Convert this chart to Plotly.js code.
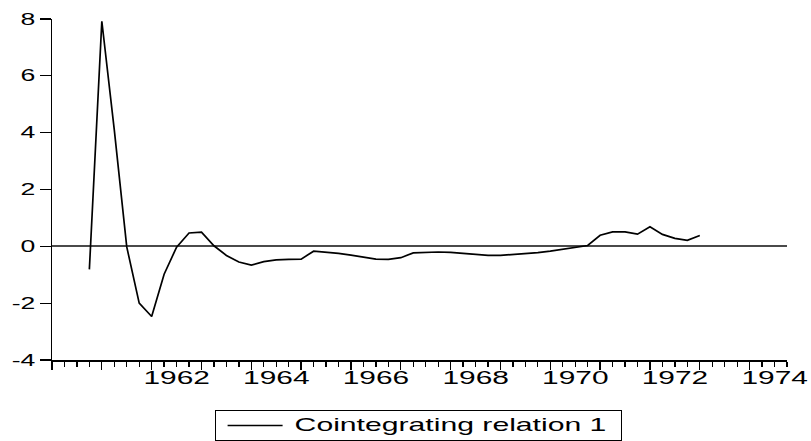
<!DOCTYPE html>
<html>
<head>
<meta charset="utf-8">
<script src="https://cdn.plot.ly/plotly-3.0.1.min.js"></script>
<style>html,body{margin:0;padding:0;background:#fff;}</style>
</head>
<body>
<div id="chart" style="width:811px;height:441px"></div>
<script>
// ---- data ----
const quarters = [
  '1960Q4',
  '1961Q1','1961Q2','1961Q3','1961Q4',
  '1962Q1','1962Q2','1962Q3','1962Q4',
  '1963Q1','1963Q2','1963Q3','1963Q4',
  '1964Q1','1964Q2','1964Q3','1964Q4',
  '1965Q1','1965Q2','1965Q3','1965Q4',
  '1966Q1','1966Q2','1966Q3','1966Q4',
  '1967Q1','1967Q2','1967Q3','1967Q4',
  '1968Q1','1968Q2','1968Q3','1968Q4',
  '1969Q1','1969Q2','1969Q3','1969Q4',
  '1970Q1','1970Q2','1970Q3','1970Q4',
  '1971Q1','1971Q2','1971Q3','1971Q4',
  '1972Q1','1972Q2','1972Q3','1972Q4',
  '1973Q1'
];
const relation1 = [
  -0.81,
  7.92, 4.10, -0.02, -2.00,
  -2.47, -0.98, -0.03, 0.47,
  0.50, 0.02, -0.32, -0.55,
  -0.66, -0.54, -0.48, -0.46,
  -0.45, -0.17, -0.20, -0.25,
  -0.31, -0.38, -0.45, -0.46,
  -0.40, -0.23, -0.21, -0.20,
  -0.21, -0.24, -0.29, -0.32,
  -0.32, -0.29, -0.26, -0.22,
  -0.17, -0.10, -0.05, 0.03,
  0.39, 0.51, 0.51, 0.43,
  0.69, 0.42, 0.28, 0.21,
  0.38
];
const seriesName = 'Cointegrating relation 1';
const yearTicks = [1960,1961,1962,1963,1964,1965,1966,1967,1968,1969,1970,1971,1972,1973,1974];
const yearTickText = ['','','1962','','1964','','1966','','1968','','1970','','1972','','1974'];
const yTickVals = [-4,-2,0,2,4,6,8];
const yTickText = ['-4','-2','0','2','4','6','8'];

function quarterToYear(q){
  const yr = parseInt(q.slice(0,4),10);
  const qn = parseInt(q.slice(5),10);
  return yr + (qn-1)/4;
}

const FONT = 'Liberation Sans, Arial, Helvetica, sans-serif';
const xRange = [1960, 1974.75];
const LEGEND_FONT = 18.5;

const data = [{
  type:'scatter', mode:'lines',
  x: quarters.map(quarterToYear), y: relation1,
  name: seriesName,
  line:{color:'#000', width:1.7}
}];

const layout = {
  width:811, height:441,
  margin:{l:52, r:24, t:19, b:81, pad:0, autoexpand:false},
  paper_bgcolor:'#fff', plot_bgcolor:'#fff',
  font:{family:FONT, color:'#000'},
  showlegend:true,
  xaxis:{
    range:xRange, tickmode:'array', tickvals:yearTicks, ticktext:yearTickText,
    ticks:'outside', ticklen:8, tickwidth:1.3, tickcolor:'#000', tickangle:0,
    tickfont:{family:FONT, size:18, color:'#000'}, ticklabelshift:25, ticklabelstandoff:-7,
    showline:true, linecolor:'#000', linewidth:1.5,
    showgrid:false, zeroline:false, automargin:false,
    minor:{tickmode:'linear', tick0:1960, dtick:0.25, ticks:'outside', ticklen:5, tickwidth:1.3, tickcolor:'#000', showgrid:false}
  },
  yaxis:{
    range:[-4,8], tickmode:'array', tickvals:yTickVals, ticktext:yTickText,
    ticks:'outside', ticklen:11, tickwidth:1.3, tickcolor:'#000',
    showline:true, linecolor:'#000', linewidth:1.5, automargin:false,
    showgrid:false, zeroline:true, zerolinecolor:'#4a4a4a', zerolinewidth:2,
    tickfont:{family:FONT, size:16, color:'#000'}, ticklabelstandoff:1
  },
  legend:{
    x:0.498, xanchor:'center', y:-0.147, yanchor:'top',
    bordercolor:'#000', borderwidth:1, bgcolor:'#fff',
    font:{family:FONT, size:LEGEND_FONT, color:'#000'}
  }
};

const F = 1.66;
function stretch(t, f){
  t.removeAttribute('textLength');
  t.removeAttribute('lengthAdjust');
  const w = t.getComputedTextLength();
  t.setAttribute('textLength', (w*f).toFixed(1));
  t.setAttribute('lengthAdjust','spacingAndGlyphs');
  return w*f;
}

function finish(gd){
  gd.querySelectorAll('.xtick text, .ytick text').forEach(t => { if (t.textContent) stretch(t, F); });
  const leg = gd.querySelector('g.legend');
  if (!leg) return;
  const txt = leg.querySelector('text.legendtext');
  const line = leg.querySelector('.legendlines path');
  const bg = leg.querySelector('rect.bg');
  const sb = leg.querySelector('.scrollbox');
  const item = leg.querySelector('g.traces');
  if (sb) sb.removeAttribute('clip-path');
  if (!txt) return;
  txt.style.fontSize = LEGEND_FONT + 'px';
  const sw = stretch(txt, 1.63);
  if (line) line.setAttribute('d','M12,0h55');
  txt.setAttribute('x', 79);
  txt.setAttribute('y', (0.3*LEGEND_FONT).toFixed(1));
  const newW = 1 + 79 + sw + 15;
  const newH = 30;
  if (bg) { bg.setAttribute('width', newW.toFixed(1)); bg.setAttribute('height', newH); }
  if (item) item.setAttribute('transform', 'translate(1,16)');
  const cx = 52 + 0.498*735;
  leg.setAttribute('transform', 'translate(' + (cx - newW/2).toFixed(1) + ',409.5)');
}

Plotly.newPlot('chart', data, layout, {staticPlot:true, displayModeBar:false}).then(gd => {
  finish(gd);
  gd.on('plotly_afterplot', () => finish(gd));
  setTimeout(() => finish(gd), 50);
});
</script>
</body>
</html>
